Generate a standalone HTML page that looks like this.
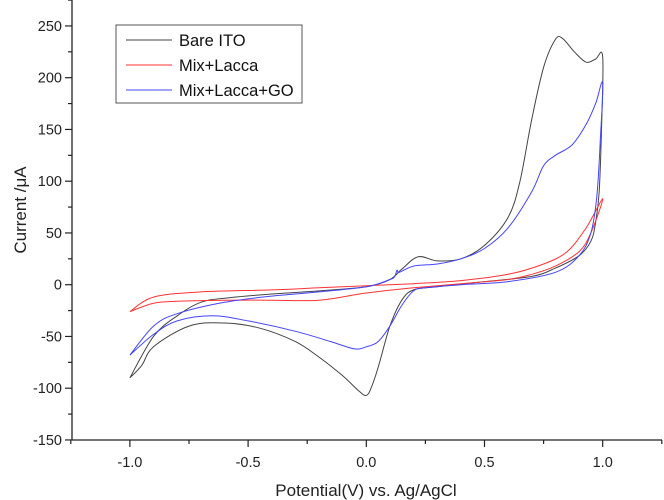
<!DOCTYPE html>
<html><head><meta charset="utf-8"><style>
body{margin:0;background:#fff}
svg{display:block;font-family:"Liberation Sans",Arial,sans-serif}
</style></head><body>
<svg id="chart" width="664" height="500" viewBox="0 0 664 500" xmlns="http://www.w3.org/2000/svg">
<g id="axes"></g>
<g id="series"></g>
<text x="366" y="496" text-anchor="middle" font-size="17" fill="#222">Potential(V) vs. Ag/AgCl</text>
<text transform="translate(26,210) rotate(-90)" text-anchor="middle" font-size="17" fill="#222">Current /μA</text>
<g>
<rect x="116" y="25" width="186" height="78" fill="#fff" stroke="#555" stroke-width="1"/>
<line x1="126" y1="40" x2="172" y2="40" stroke="#444" stroke-width="1"/>
<text x="179" y="46" font-size="16.5" fill="#111">Bare ITO</text>
<line x1="126" y1="65" x2="172" y2="65" stroke="#f33" stroke-width="1"/>
<text x="179" y="71" font-size="16.5" fill="#111">Mix+Lacca</text>
<line x1="126" y1="90" x2="172" y2="90" stroke="#44f" stroke-width="1"/>
<text x="179" y="96" font-size="16.5" fill="#111">Mix+Lacca+GO</text>
</g>
</svg>
<script>
const xTicks=[-1.0,-0.5,0.0,0.5,1.0];
const xTickLabels=["-1.0","-0.5","0.0","0.5","1.0"];
const yTicks=[-150,-100,-50,0,50,100,150,200,250];
const yTickLabels=["-150","-100","-50","0","50","100","150","200","250"];
const bareV=[-1,-0.9,-0.8,-0.7,-0.6,-0.4,-0.2,0,0.1,0.15,0.22,0.3,0.4,0.5,0.6,0.65,0.7,0.75,0.8,0.83,0.88,0.93,0.97,1.0,0.995,0.985,0.97,0.95,0.9,0.8,0.7,0.5,0.3,0.2,0.15,0.1,0.05,0.02,0,-0.03,-0.1,-0.2,-0.3,-0.45,-0.6,-0.75,-0.9,-0.95,-1];
const bareI=[-90,-50,-30,-17,-13,-9,-6,-2,5,15,27,23,25,38,65,100,160,210,237,238,225,215,218,220,150,90,60,42,28,16,8,3,-2,-5,-15,-40,-80,-100,-107,-103,-88,-70,-55,-42,-37,-40,-60,-78,-90];
const laccaV=[-1,-0.9,-0.7,-0.4,-0.2,0,0.2,0.4,0.6,0.75,0.85,0.93,1.0,0.95,0.9,0.8,0.7,0.6,0.4,0.2,0,-0.2,-0.4,-0.6,-0.8,-0.9,-1];
const laccaI=[-26,-12,-7,-5,-3,-1,1,4,10,20,32,55,83,50,32,18,10,5,1,-3,-8,-15,-15,-15,-16,-18,-26];
const goV=[-1,-0.9,-0.8,-0.6,-0.4,-0.2,0,0.1,0.12,0.13,0.14,0.2,0.3,0.4,0.5,0.6,0.7,0.75,0.8,0.87,0.93,0.97,1.0,0.99,0.975,0.95,0.9,0.8,0.6,0.4,0.25,0.2,0.15,0.1,0.05,0,-0.05,-0.15,-0.3,-0.5,-0.65,-0.8,-0.9,-1];
const goI=[-68,-40,-28,-17,-11,-7,-2,5,8,14,12,18,20,25,35,55,90,115,125,135,155,175,195,140,85,50,28,12,3,0,-3,-6,-20,-40,-55,-60,-62,-55,-45,-35,-30,-35,-48,-68];

const NS="http://www.w3.org/2000/svg";
const X0=72,X1=662,Y0=440,Ytop=0;
function sx(v){return 366.3+v*236.4;}
function sy(i){return 284.7-i*1.035;}
const axes=document.getElementById('axes');
function mk(tag,attrs,parent){const e=document.createElementNS(NS,tag);for(const k in attrs)e.setAttribute(k,attrs[k]);parent.appendChild(e);return e;}
let ax=mk('line',{x1:X0,y1:Ytop,x2:X0,y2:Y0,stroke:'#222','stroke-width':1.3},axes);


let bx=mk('line',{x1:X0,y1:Y0,x2:X1,y2:Y0,stroke:'#222','stroke-width':1.3},axes);


for(let v=-1.25;v<=1.251;v+=0.25){const major=Math.abs(Math.round(v*2)-v*2)<1e-6;
 const t=mk('line',{x1:sx(v),y1:Y0,x2:sx(v),y2:Y0+(major?7:4),stroke:'#222','stroke-width':1.2},axes);
 
 }
xTicks.forEach((v,k)=>{const t=mk('text',{x:sx(v),y:Y0+27,'text-anchor':'middle','font-size':14.5,fill:'#222'},axes);t.textContent=xTickLabels[k];
 
 });
for(let i=-150;i<=275;i+=25){const major=i%50===0;
 const t=mk('line',{x1:X0,y1:sy(i),x2:X0-(major?7:4),y2:sy(i),stroke:'#222','stroke-width':1.2},axes);
 
 }
yTicks.forEach((v,k)=>{const t=mk('text',{x:X0-10,y:sy(v)+5,'text-anchor':'end','font-size':14.5,fill:'#222'},axes);t.textContent=yTickLabels[k];
 
 });
function pathFor(V,I){const p=V.map((v,k)=>[sx(v),sy(I[k])]);let d='M'+p[0][0]+','+p[0][1];
 for(let k=0;k<p.length-1;k++){const a=p[Math.max(k-1,0)],b=p[k],c=p[k+1],e=p[Math.min(k+2,p.length-1)];
  const c1=[b[0]+(c[0]-a[0])/6,b[1]+(c[1]-a[1])/6],c2=[c[0]-(e[0]-b[0])/6,c[1]-(e[1]-b[1])/6];
  d+=' C'+c1[0].toFixed(1)+','+c1[1].toFixed(1)+' '+c2[0].toFixed(1)+','+c2[1].toFixed(1)+' '+c[0].toFixed(1)+','+c[1].toFixed(1);}
 return d;}
const sg=document.getElementById('series');
let s1=mk('path',{d:pathFor(bareV,bareI),fill:'none',stroke:'#444','stroke-width':1},sg);


let s2=mk('path',{d:pathFor(laccaV,laccaI),fill:'none',stroke:'#f33','stroke-width':1},sg);


let s3=mk('path',{d:pathFor(goV,goI),fill:'none',stroke:'#44f','stroke-width':1},sg);


</script>
</body></html>
